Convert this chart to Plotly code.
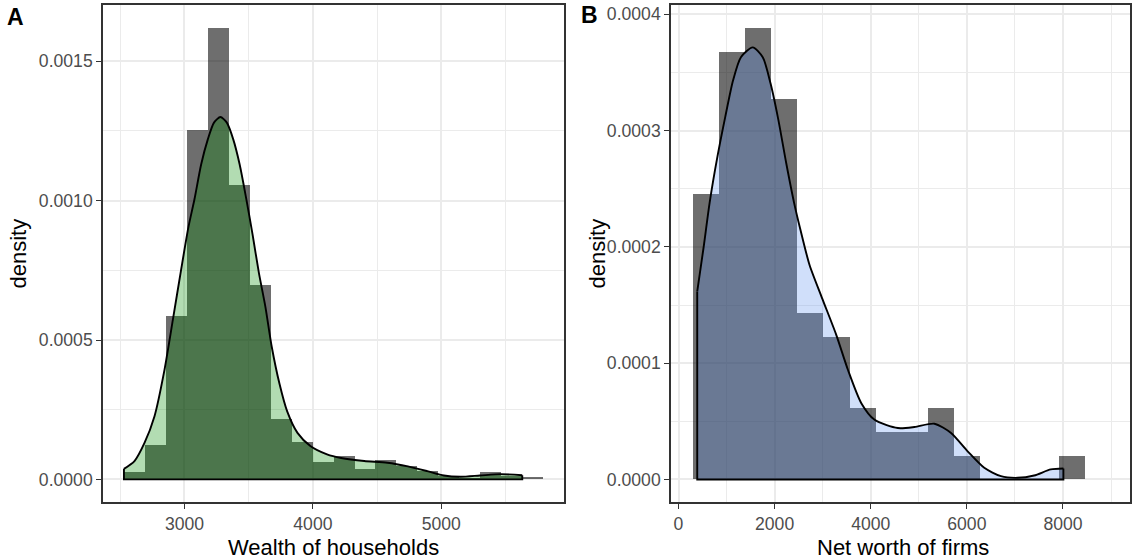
import numpy as np
import plotly.graph_objects as go

# ---------------- Data: Panel A (households) ----------------
a_edges = [2529, 2692, 2855, 3018, 3181, 3345, 3508, 3671, 3834, 3997, 4161,
           4324, 4487, 4650, 4813, 4977, 5140, 5303, 5466, 5629, 5792]
a_hist_density = [0.000026, 0.000122, 0.000587, 0.001253, 0.001621, 0.001056,
                  0.000698, 0.000218, 0.000134, 0.000062, 0.000083, 0.000036,
                  0.000070, 0.000047, 0.000032, 0.000012, 0.000006, 0.000025,
                  0.000012, 0.000010]
a_kde_x = [2529, 2611, 2689, 2767, 2845, 2910, 2974, 3031, 3078, 3130, 3182,
           3230, 3280, 3330, 3380, 3430, 3480, 3530, 3580, 3630, 3680, 3740,
           3800, 3880, 3980, 4110, 4220, 4400, 4580, 4740, 4890, 5020, 5150,
           5300, 5460, 5630]
a_kde_y = [0.000038, 0.000066, 0.000131, 0.000227, 0.000394, 0.000573,
           0.000752, 0.000905, 0.001005, 0.00113, 0.00122, 0.00128, 0.0013,
           0.00128, 0.00122, 0.00113, 0.00101, 0.00088, 0.00074, 0.00062,
           0.000475, 0.000343, 0.000244, 0.000167, 0.00012, 0.00009, 0.000077,
           0.000066, 0.00006, 0.000047, 0.00003, 0.000014, 0.0000095, 0.000014,
           0.000019, 0.000015]

# ---------------- Data: Panel B (firms) ----------------
b_edges = [297, 840, 1384, 1928, 2471, 3015, 3559, 4103, 4646, 5190, 5734,
           6278, 6821, 7365, 7908, 8451]
b_hist_density = [0.0002454, 0.000368, 0.0003885, 0.0003272, 0.0001431,
                  0.0001227, 0.0000614, 0.0000409, 0.0000409, 0.0000614,
                  0.0000204, 0.0, 0.0, 0.0, 0.0000204]
b_kde_x = [390, 519, 649, 812, 974, 1136, 1299, 1545, 1753, 1916, 2078, 2240,
           2403, 2532, 2727, 2987, 3279, 3527, 3804, 4080, 4565, 4910, 5325,
           5671, 6017, 6362, 6709, 7055, 7400, 7746, 8009]
b_kde_y = [0.0001617, 0.0001986, 0.0002383, 0.000278, 0.000312, 0.0003433,
           0.0003631, 0.0003716, 0.0003631, 0.0003404, 0.0003092, 0.0002723,
           0.0002383, 0.0002156, 0.0001844, 0.000156, 0.0001248, 0.0000941,
           0.0000656, 0.0000513, 0.0000442, 0.0000451, 0.0000479, 0.00004,
           0.0000242, 0.00001, 0.0000028, 0.0000014, 0.0000034, 0.0000086,
           0.0000094]

W, H = 1137, 560
FONT = "Liberation Sans, Arial, sans-serif"
GRID = "#ebebeb"
BORDER = "#333333"
HIST_COLOR = "rgba(0,0,0,0.57)"


def add_panel(fig, edges, dens, kx, ky, fillcolor, xa, ya):
    e = np.array(edges, dtype=float)
    centers = (e[:-1] + e[1:]) / 2
    widths = e[1:] - e[:-1]
    fig.add_trace(go.Bar(x=centers, y=dens, width=widths,
                         marker=dict(color=HIST_COLOR, line=dict(width=0)),
                         xaxis=xa, yaxis=ya, showlegend=False, hoverinfo="skip"))
    fig.add_trace(go.Scatter(x=kx, y=ky, mode="lines",
                             line=dict(color="black", width=1.9, shape="spline", smoothing=0.7),
                             fill="tozeroy", fillcolor=fillcolor,
                             xaxis=xa, yaxis=ya, showlegend=False, hoverinfo="skip"))
    fig.add_trace(go.Scatter(x=[kx[-1], kx[-1], kx[0], kx[0]],
                             y=[ky[-1], 0, 0, ky[0]], mode="lines",
                             line=dict(color="black", width=1.9),
                             xaxis=xa, yaxis=ya, showlegend=False, hoverinfo="skip"))


fig = go.Figure()
add_panel(fig, a_edges, a_hist_density, a_kde_x, a_kde_y, "rgba(0,139,0,0.3)", "x", "y")
add_panel(fig, b_edges, b_hist_density, b_kde_x, b_kde_y, "rgba(100,149,237,0.3)", "x2", "y2")

ydom = [1 - 502 / H, 1 - 5 / H]
axis_common = dict(showline=True, linecolor=BORDER, linewidth=1.6, mirror=True,
                   ticks="outside", ticklen=5, tickcolor=BORDER, tickwidth=1.4,
                   showgrid=True, gridcolor=GRID, gridwidth=1.6, zeroline=False,
                   tickfont=dict(family=FONT, size=17.6, color="#4d4d4d"))

fig.update_layout(
    width=W, height=H, margin=dict(l=0, r=0, t=0, b=0),
    paper_bgcolor="white", plot_bgcolor="white", bargap=0,
    showlegend=False,
    xaxis=dict(domain=[103 / W, 564 / W], range=[2366, 5955], anchor="y",
               tickvals=[3000, 4000, 5000], ticktext=["3000", "4000", "5000"],
               minor=dict(dtick=500, tick0=2500, showgrid=True, gridcolor=GRID, gridwidth=0.8, ticks=""),
               **axis_common),
    yaxis=dict(domain=ydom, range=[-0.000081, 0.001702], anchor="x",
               tickvals=[0, 0.0005, 0.0010, 0.0015],
               ticktext=["0.0000", "0.0005", "0.0010", "0.0015"],
               minor=dict(dtick=0.00025, tick0=0, showgrid=True, gridcolor=GRID, gridwidth=0.8, ticks=""),
               **axis_common),
    xaxis2=dict(domain=[671 / W, 1130 / W], range=[-156, 9395], anchor="y2",
                tickvals=[0, 2000, 4000, 6000, 8000],
                ticktext=["0", "2000", "4000", "6000", "8000"],
                minor=dict(dtick=1000, tick0=0, showgrid=True, gridcolor=GRID, gridwidth=0.8, ticks=""),
                **axis_common),
    yaxis2=dict(domain=ydom, range=[-0.0000194, 0.000408], anchor="x2",
                tickvals=[0, 0.0001, 0.0002, 0.0003, 0.0004],
                ticktext=["0.0000", "0.0001", "0.0002", "0.0003", "0.0004"],
                minor=dict(dtick=0.00005, tick0=0, showgrid=True, gridcolor=GRID, gridwidth=0.8, ticks=""),
                **axis_common),
)

title_font = dict(family=FONT, size=22, color="black")
ymid = 1 - 253.5 / H
annotations = [
    dict(text="Wealth of households", x=333.5 / W, y=1 - 547 / H, xref="paper", yref="paper",
         showarrow=False, font=title_font, xanchor="center", yanchor="middle"),
    dict(text="Net worth of firms", x=903 / W, y=1 - 547 / H, xref="paper", yref="paper",
         showarrow=False, font=title_font, xanchor="center", yanchor="middle"),
    dict(text="density", x=18 / W, y=ymid, xref="paper", yref="paper", textangle=-90,
         showarrow=False, font=title_font, xanchor="center", yanchor="middle"),
    dict(text="density", x=597 / W, y=ymid, xref="paper", yref="paper", textangle=-90,
         showarrow=False, font=title_font, xanchor="center", yanchor="middle"),
    dict(text="<b>A</b>", x=15 / W, y=1 - 17 / H, xref="paper", yref="paper",
         showarrow=False, font=dict(family=FONT, size=23, color="black"),
         xanchor="center", yanchor="middle"),
    dict(text="<b>B</b>", x=589 / W, y=1 - 15 / H, xref="paper", yref="paper",
         showarrow=False, font=dict(family=FONT, size=23, color="black"),
         xanchor="center", yanchor="middle"),
]
fig.update_layout(annotations=annotations)

fig.write_html("out.html")
